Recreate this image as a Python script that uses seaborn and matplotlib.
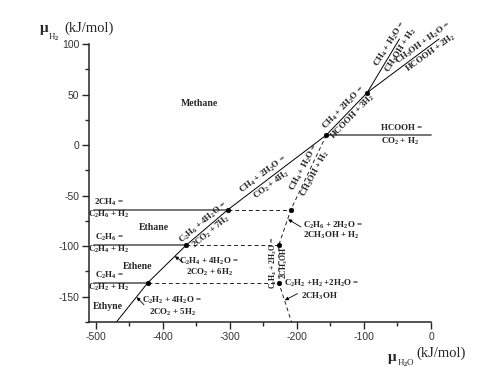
import numpy as np
import pandas as pd
import matplotlib.pyplot as plt
import seaborn as sns

# coordinates: mu_H2O (x) and mu_H2 (y), kJ/mol
main_x = [-469, -422, -365, -303, -156, -95]
main_y = [-175, -136, -99, -64, 10, 52]
methanol_x = [-95, -47]          # CH4 + H2O = CH3OH + H2
methanol_y = [52, 105]
formic_x = [-95, 12]             # CH3OH + H2O = HCOOH + 2H2
formic_y = [52, 105]

left_y = [-64, -99, -136]        # 2CH4=C2H6+H2, C2H6=C2H4+H2, C2H4=C2H2+H2
left_end = [-303, -365, -422]
hcooh_x = [-156, 0]
hcooh_y = [10, 10]

dash_h_start = [-303, -365, -422]
dash_h_end = [-209, -227, -227]
dash_x = [-156, -209, -227, -227, -208]
dash_y = [10, -64, -99, -136, -175]

dot_x = [-422, -365, -303, -156, -95, -209, -227, -227]
dot_y = [-136, -99, -64, 10, 52, -64, -99, -136]

x_ticks = [-500, -400, -300, -200, -100, 0]
y_ticks = [-150, -100, -50, 0, 50, 100]

sns.set_style('ticks')
plt.rcParams['font.family'] = ['Liberation Serif', 'DejaVu Serif']
plt.rcParams['axes.unicode_minus'] = False
plt.rcParams['mathtext.fontset'] = 'custom'
plt.rcParams['mathtext.rm'] = 'Liberation Serif:bold'
plt.rcParams['mathtext.it'] = 'Liberation Serif:italic:bold'
plt.rcParams['mathtext.bf'] = 'Liberation Serif:bold'
plt.rcParams['mathtext.default'] = 'rm'

FS = 6.4


def segments(pairs):
    rows = []
    for i, (xs, ys) in enumerate(pairs):
        for x, y in zip(xs, ys):
            rows.append({'seg': i, 'x': x, 'y': y})
    return pd.DataFrame(rows)


def along(ax, x, y, angle, above, below, d=4.6, size=FS):
    rad = np.radians(angle)
    nx, ny = -np.sin(rad) * d, np.cos(rad) * d
    for txt, s in ((above, 1), (below, -1)):
        ax.annotate(txt, (x, y), xytext=(s * nx, s * ny), textcoords='offset points',
                    rotation=angle, rotation_mode='anchor', ha='center', va='center',
                    fontsize=size, fontweight='bold', annotation_clip=False)


def label(ax, x, y, txt, ha='center'):
    ax.text(x, y, txt, fontsize=FS, fontweight='bold', ha=ha, va='center')


def arrow(ax, head, tail):
    ax.annotate('', xy=head, xytext=tail,
                arrowprops=dict(arrowstyle='-|>', lw=0.6, color='k', mutation_scale=5,
                                shrinkA=0, shrinkB=0))


fig = plt.figure(figsize=(5, 3.86), dpi=100)
ax = fig.add_axes([0.178, 0.166, 0.684, 0.72])

black = segments([(main_x, main_y), (methanol_x, methanol_y), (formic_x, formic_y)])
gray = segments([([-502, e], [y, y]) for y, e in zip(left_y, left_end)] + [(hcooh_x, hcooh_y)])
dashed = segments([([s, e], [y, y]) for s, e, y in zip(dash_h_start, dash_h_end, left_y)]
                  + [(dash_x, dash_y)])

sns.lineplot(data=black, x='x', y='y', units='seg', estimator=None, sort=False,
             color='black', lw=0.7, ax=ax, clip_on=False)
sns.lineplot(data=gray, x='x', y='y', units='seg', estimator=None, sort=False,
             color='#6a6a6a', lw=1.3, ax=ax, clip_on=False)
sns.lineplot(data=dashed, x='x', y='y', units='seg', estimator=None, sort=False,
             color='#222222', lw=0.7, ls=(0, (4, 3)), ax=ax, clip_on=False)
sns.scatterplot(x=dot_x, y=dot_y, color='black', s=12, edgecolor='black', zorder=5, ax=ax)

ax.set_xlim(-510, 0)
ax.set_ylim(-175, 100)
tick_font = dict(family='Liberation Sans', size=7.5, color='#333333')
ax.set_xticks(x_ticks, labels=[str(t) for t in x_ticks], **tick_font)
ax.set_yticks(y_ticks, labels=[str(t) for t in y_ticks], **tick_font)
ax.set_xticks(np.arange(-450, 0, 100), minor=True)
ax.set_yticks(np.arange(-175, 100, 50), minor=True)
ax.set_xlabel('')
ax.set_ylabel('')
ax.tick_params(which='major', length=5, width=1, pad=2)
ax.tick_params(which='minor', length=3, width=1)
sns.despine(ax=ax)
for sp in ax.spines.values():
    sp.set_linewidth(1.1)

# phase regions
for txt, x, y in [('Methane', -345, 41), ('Ethane', -413, -82), ('Ethene', -438, -120),
                  ('Ethyne', -482, -160)]:
    ax.text(x, y, txt, fontsize=7, fontweight='bold', ha='center', va='center')

# dehydrogenation lines on the left
for top, bot, y in [('2CH$_4$ =', 'C$_2$H$_6$ + H$_2$', -64),
                    ('C$_2$H$_6$ =', 'C$_2$H$_4$ + H$_2$', -99),
                    ('C$_2$H$_4$ =', 'C$_2$H$_2$ + H$_2$', -136)]:
    label(ax, -480, y + 7.5, top)
    label(ax, -480, y - 4.5, bot)

along(ax, -334, -81.5, 40, 'C$_2$H$_6$ + 4H$_2$O =', '2CO$_2$ + 7H$_2$')
along(ax, -244, -34.5, 37, 'CH$_4$ + 2H$_2$O =', 'CO$_2$ + 4H$_2$')
along(ax, -123, 33, 46, 'CH$_4$ + 2H$_2$O =', 'HCOOH + 3H$_2$')
along(ax, -181, -25, 62, 'CH$_4$ + H$_2$O =', 'CH$_3$OH + H$_2$')
along(ax, -53, 97, 58, 'CH$_4$ + H$_2$O =', 'CH$_3$OH + H$_2$')
along(ax, -6, 96, 36, 'CH$_3$OH + H$_2$O =', 'HCOOH + 2H$_2$')
along(ax, -227, -116, 90, 'C$_2$H$_4$ + 2H$_2$O =', '2CH$_3$OH', d=4.2, size=5.6)

label(ax, -74, 17, 'HCOOH =', ha='left')
label(ax, -74, 3.5, 'CO$_2$ + H$_2$', ha='left')

label(ax, -331, -115.5, 'C$_2$H$_4$ + 4H$_2$O =')
label(ax, -331, -126, '2CO$_2$ + 6H$_2$')
arrow(ax, (-382, -110), (-370, -116))

label(ax, -386, -153.5, 'C$_2$H$_2$ + 4H$_2$O =')
label(ax, -386, -166, '2CO$_2$ + 5H$_2$')
arrow(ax, (-439, -150.5), (-428, -158))

label(ax, -191, -79, 'C$_2$H$_6$ + 2H$_2$O =', ha='left')
label(ax, -191, -89.5, '2CH$_3$OH + H$_2$', ha='left')
arrow(ax, (-213, -73.5), (-194, -81))

label(ax, -163, -137, 'C$_2$H$_2$ +H$_2$ +2H$_2$O =')
label(ax, -166, -149.5, '2CH$_3$OH')
arrow(ax, (-218, -153.5), (-199, -147))

fig.text(0.08, 0.925, 'μ', fontsize=11, fontweight='bold', va='center', ha='left')
fig.text(0.108, 0.903, 'H$_2$', fontsize=6.5, va='center', ha='center')
fig.text(0.128, 0.927, '(kJ/mol)', fontsize=10.5, va='center', ha='left')
fig.text(0.776, 0.075, 'μ', fontsize=11, fontweight='bold', va='center', ha='left')
fig.text(0.812, 0.058, 'H$_2$O', fontsize=6.5, va='center', ha='center')
fig.text(0.832, 0.085, '(kJ/mol)', fontsize=10.5, va='center', ha='left')

fig.savefig('out.png', dpi=100)
